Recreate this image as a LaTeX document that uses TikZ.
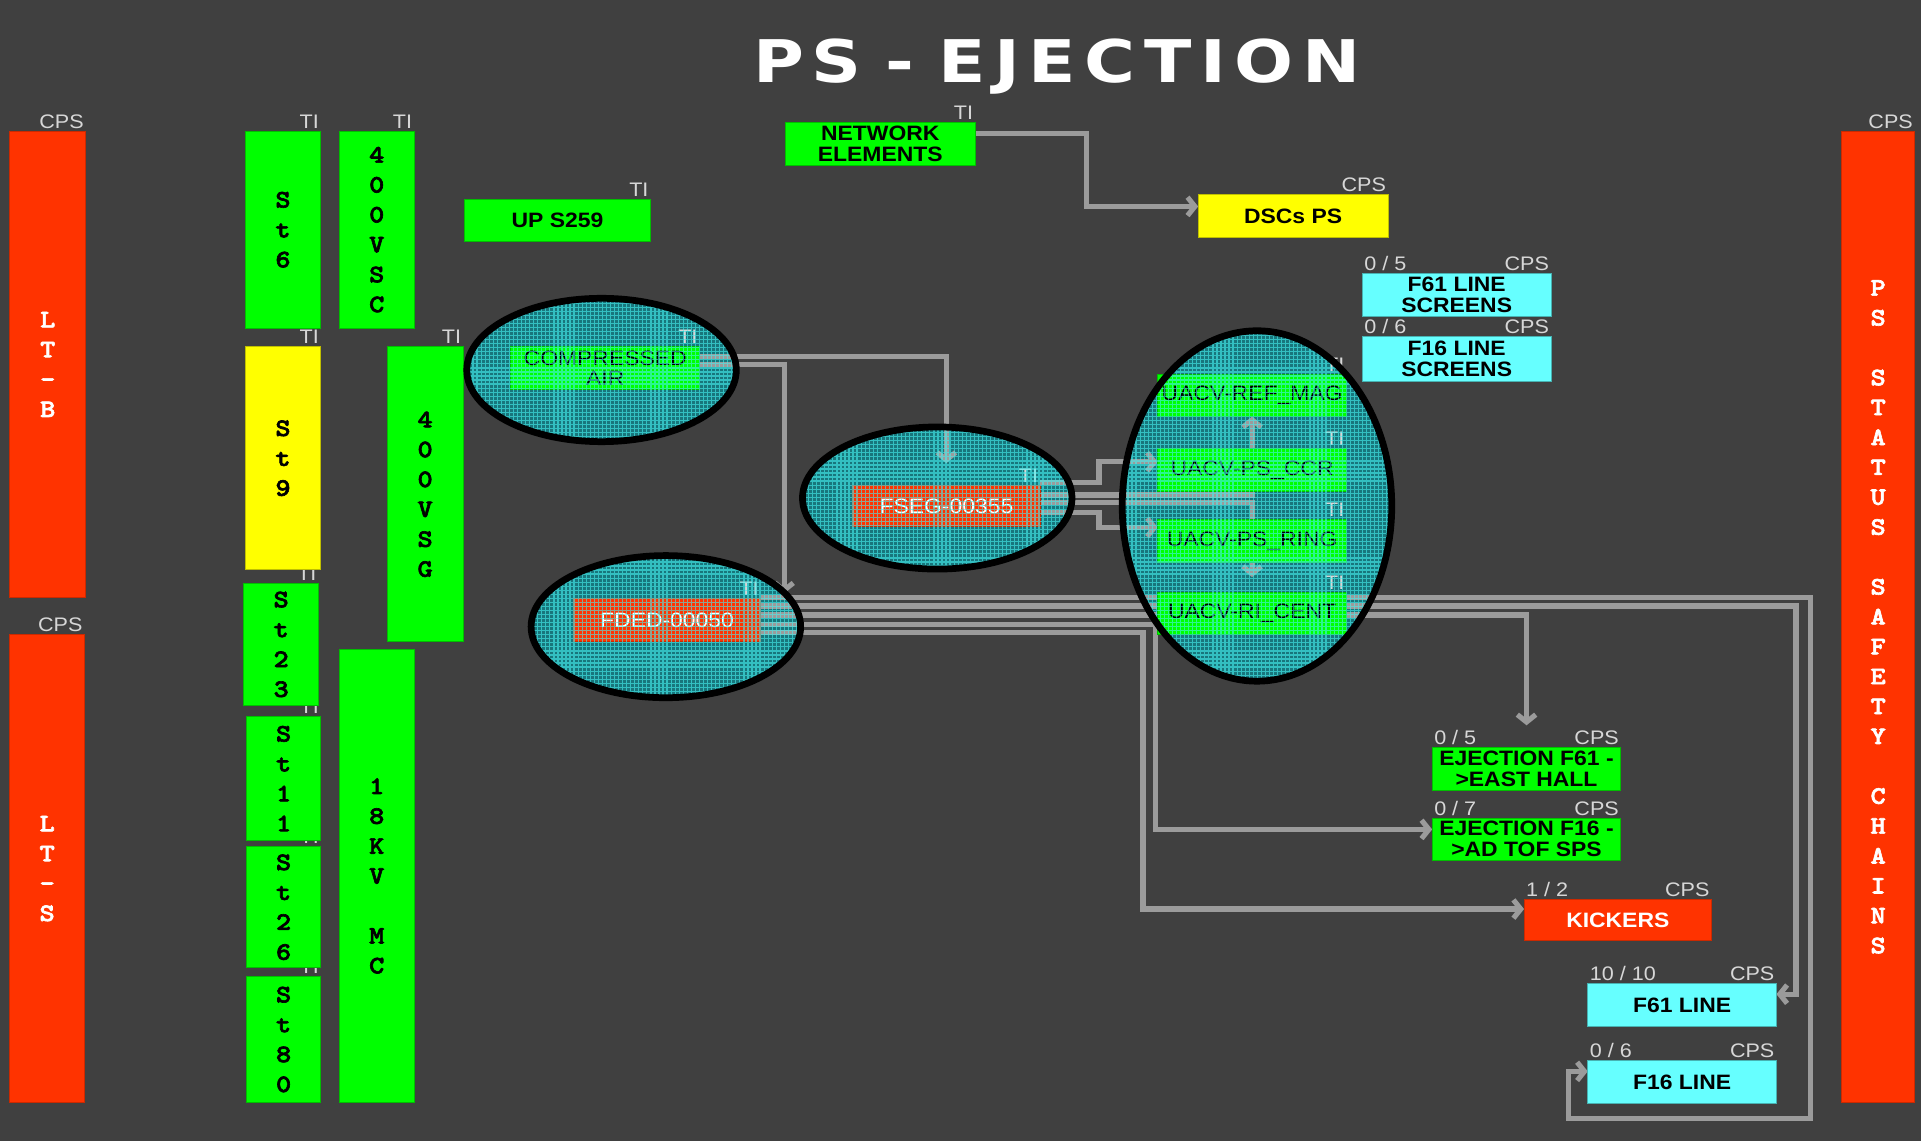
\documentclass[tikz,border=0pt]{standalone}
\usepackage{fontspec}
\setmainfont{Liberation Sans}
\newfontfamily\boxfont[FakeStretch=1.1]{Liberation Sans}
\newfontfamily\tagfont[FakeStretch=1.1]{Liberation Sans}
\newfontfamily\titlefont[FakeStretch=1.18]{DejaVu Sans}
\newfontfamily\vfont[FakeStretch=1.15,FakeBold=2.5]{lmmonolt10-bold.otf}
\usetikzlibrary{arrows.meta}

\pgfdeclarelayer{base}
\pgfdeclarelayer{low}
\pgfdeclarelayer{top}
\pgfsetlayers{base,low,main,top}

\definecolor{panelbg}{RGB}{64,64,64}
\definecolor{okgreen}{RGB}{0,255,0}
\definecolor{warnyel}{RGB}{255,255,0}
\definecolor{alarmred}{RGB}{255,51,0}
\definecolor{infocyan}{RGB}{102,255,255}
\definecolor{wiregray}{RGB}{155,155,155}
\definecolor{tagcol}{RGB}{215,215,215}
\definecolor{hatchbase}{RGB}{24,118,124}
\definecolor{hatchline}{RGB}{70,240,240}

\tikzset{
  cell/.style={rectangle, inner sep=0pt, outer sep=0pt, line width=0.8pt,
    font=\boxfont\bfseries\fontsize{17}{17}\selectfont, align=center, text=black},
  gbox/.style={cell, fill=okgreen, draw=okgreen!75!black},
  ybox/.style={cell, fill=warnyel, draw=warnyel!75!black},
  rbox/.style={cell, fill=alarmred, draw=alarmred!80!black, text=white},
  cbox/.style={cell, fill=infocyan, draw=infocyan!70!black},
  incell/.style={font=\boxfont\fontsize{17}{17}\selectfont},
  vtxt/.style={font=\vfont\fontsize{20.5}{24.4}\selectfont, align=center},
  tagtxt/.style={font=\tagfont\fontsize{16}{16}\selectfont, text=tagcol, inner sep=0pt},
  wireline/.style={draw=wiregray, line width=4.2pt},
  tip/.style={-{Straight Barb[length=6pt,width=15pt]}},
  hatch/.style={draw=hatchline, opacity=0.6, line width=1pt},
  ovalrim/.style={draw=black, line width=5.5pt},
}

% status tags sitting on the top edge of a box
\newcommand\tagR[3]{\node[tagtxt,anchor=base east,yshift=2.5pt,xshift=-1.5pt] (#1) at (#2.north east) {#3};}
\newcommand\tagL[3]{\node[tagtxt,anchor=base west,yshift=2.5pt,xshift=1.5pt] (#1) at (#2.north west) {#3};}

\begin{document}
\begin{tikzpicture}[x=1pt,y=-1pt]

% ---------- panel and oval groups ----------
\begin{pgfonlayer}{base}
  \fill[panelbg] (0,0) rectangle (1568,931);
  \coordinate (eca) at (491,302);
  \coordinate (efs) at (765,406.5);
  \coordinate (efd) at (543.5,511.5);
  \coordinate (eua) at (1026,413);
  \fill[hatchbase] (eca) ellipse [x radius=110pt, y radius=58.5pt];
  \fill[hatchbase] (efs) ellipse [x radius=110pt, y radius=58pt];
  \fill[hatchbase] (efd) ellipse [x radius=110pt, y radius=58pt];
  \fill[hatchbase] (eua) ellipse [x radius=110pt, y radius=143pt];
\end{pgfonlayer}
\useasboundingbox (0,0) rectangle (1568,931);

% ---------- title ----------
\node[anchor=base, text=white, inner sep=0pt,
      font=\titlefont\bfseries\fontsize{48}{48}\selectfont] (title) at (862.5,67)
  {P\kern6pt S - E\kern7pt J\kern7pt E\kern7pt C\kern7pt T\kern7pt I\kern7pt O\kern7pt N};

% ---------- vertical status bars ----------
\node[rbox,vtxt,minimum width=62pt,minimum height=381pt] (ltb) at (39,297.5) {L\\T\\-\\B};
\node[rbox,vtxt,minimum width=61pt,minimum height=382pt] (lts) at (38.5,709) {L\\T\\-\\S};

\node[gbox,vtxt,minimum width=62pt,minimum height=161pt] (st6) at (231,187.5) {S\\t\\6};
\node[ybox,vtxt,minimum width=62pt,minimum height=182pt] (st9) at (231,374) {S\\t\\9};
\node[gbox,vtxt,minimum width=61pt,minimum height=100pt] (st23) at (229.5,526) {S\\t\\2\\3};
\node[gbox,vtxt,minimum width=61pt,minimum height=101pt] (st11) at (231.5,635.5) {S\\t\\1\\1};
\node[gbox,vtxt,minimum width=61pt,minimum height=99pt] (st26) at (231.5,740.5) {S\\t\\2\\6};
\node[gbox,vtxt,minimum width=61pt,minimum height=103pt] (st80) at (231.5,848.5) {S\\t\\8\\0};

\node[gbox,vtxt,minimum width=61pt,minimum height=161pt] (vsc) at (307.5,187.5) {4\\0\\0\\V\\S\\C};
\node[gbox,vtxt,minimum width=62pt,minimum height=241pt] (vsg) at (347,403.5) {4\\0\\0\\V\\S\\G};
\node[gbox,vtxt,minimum width=61pt,minimum height=370pt] (kv18) at (307.5,715) {1\\8\\K\\V\\~\\M\\C};

\node[rbox,vtxt,minimum width=60pt,minimum height=793pt] (pss) at (1533,503.5)
  {P\\S\\~\\S\\T\\A\\T\\U\\S\\~\\S\\A\\F\\E\\T\\Y\\~\\C\\H\\A\\I\\N\\S};

% ---------- equipment boxes ----------
\node[gbox,minimum width=152pt,minimum height=34pt] (ups) at (455,180) {UP S259};
\node[gbox,minimum width=155pt,minimum height=35pt] (net) at (718.5,117.5) {NETWORK\\ELEMENTS};
\node[ybox,minimum width=155pt,minimum height=35pt] (dsc) at (1055.5,176.5) {DSCs PS};
\node[cbox,minimum width=154pt,minimum height=35pt] (f61s) at (1189,240.5) {F61 LINE\\SCREENS};
\node[cbox,minimum width=154pt,minimum height=36pt] (f16s) at (1189,293) {F16 LINE\\SCREENS};

\node[gbox,incell,minimum width=154pt,minimum height=35pt] (ca) at (494,300.5) {COMPRESSED\\AIR};
\node[rbox,incell,minimum width=153pt,minimum height=34pt] (fseg) at (772.5,413) {FSEG-00355};
\node[rbox,incell,minimum width=153pt,minimum height=35pt] (fded) at (544.5,506) {FDED-00050};

\node[gbox,incell,minimum width=154pt,minimum height=34pt] (refmag) at (1022,323) {UACV-REF\_MAG};
\node[gbox,incell,minimum width=154pt,minimum height=35pt] (ccr) at (1022,383.5) {UACV-PS\_CCR};
\node[gbox,incell,minimum width=154pt,minimum height=35pt] (ring) at (1022,441.5) {UACV-PS\_RING};
\node[gbox,incell,minimum width=154pt,minimum height=34pt] (ricent) at (1022,501) {UACV-RI\_CENT};

\node[gbox,minimum width=154pt,minimum height=35pt] (ejf61) at (1246,627.5) {EJECTION F61 -\\>EAST HALL};
\node[gbox,minimum width=154pt,minimum height=34pt] (ejf16) at (1246,685) {EJECTION F16 -\\>AD TOF SPS};
\node[rbox,minimum width=153pt,minimum height=34pt] (kick) at (1320.5,751) {KICKERS};
\node[cbox,minimum width=154pt,minimum height=35pt] (f61l) at (1373,820.5) {F61 LINE};
\node[cbox,minimum width=154pt,minimum height=35pt] (f16l) at (1373,883.5) {F16 LINE};

% ---------- tags and links (behind the boxes) ----------
\begin{pgfonlayer}{low}
  \tagR{tLTB}{ltb}{CPS}
  \tagR{tLTS}{lts}{CPS}
  \tagR{tSt6}{st6}{TI}
  \tagR{tVSC}{vsc}{TI}
  \tagR{tSt9}{st9}{TI}
  \tagR{tVSG}{vsg}{TI}
  \tagR{tSt23}{st23}{TI}
  \tagR{tSt11}{st11}{TI}
  \tagR{tSt26}{st26}{TI}
  \tagR{tSt80}{st80}{TI}
  \tagR{tPSS}{pss}{CPS}
  \tagR{tUPS}{ups}{TI}
  \tagR{tNET}{net}{TI}
  \tagR{tDSC}{dsc}{CPS}
  \tagL{nF61S}{f61s}{0 / 5}  \tagR{tF61S}{f61s}{CPS}
  \tagL{nF16S}{f16s}{0 / 6}  \tagR{tF16S}{f16s}{CPS}
  \tagR{tCA}{ca}{TI}
  \tagR{tFSEG}{fseg}{TI}
  \tagR{tFDED}{fded}{TI}
  \tagR{tREF}{refmag}{TI}
  \tagR{tCCR}{ccr}{TI}
  \tagR{tRING}{ring}{TI}
  \tagR{tCENT}{ricent}{TI}
  \tagL{nEJ61}{ejf61}{0 / 5}  \tagR{tEJ61}{ejf61}{CPS}
  \tagL{nEJ16}{ejf16}{0 / 7}  \tagR{tEJ16}{ejf16}{CPS}
  \tagL{nKICK}{kick}{1 / 2}   \tagR{tKICK}{kick}{CPS}
  \tagL{nF61}{f61l}{10 / 10}  \tagR{tF61}{f61l}{CPS}
  \tagL{nF16}{f16l}{0 / 6}    \tagR{tF16}{f16l}{CPS}

  % network to display servers
  \draw[wireline,tip] ([yshift=8.5pt]net.east) -- (887,109) |- ([yshift=8pt]dsc.west);
  % compressed air feeds
  \draw[wireline,tip] ([yshift=9.5pt]ca.east) -| ([yshift=18pt]fseg.north);
  \draw[wireline,tip] ([yshift=3pt]ca.east) -| ([xshift=19pt,yshift=4pt]fded.north east);
  % FSEG to the ventilation units
  \draw[wireline,tip] ([yshift=19pt]fseg.east) -- (897,394) |- ([yshift=6.5pt]ccr.west);
  \draw[wireline,tip] ([yshift=9pt]fseg.east) -| (refmag.south);
  \draw[wireline,tip] ([yshift=2.5pt]fseg.east) -| ([yshift=13pt]ricent.north);
  \draw[wireline,tip] ([yshift=-5pt]fseg.east) -- (897,418) |- ([yshift=11pt]ring.west);
  % FDED to the ejection lines
  \draw[wireline,tip] ([yshift=18.4pt]fded.east) -| (1478,913) -| (1280,874.5) -- ([yshift=9pt]f16l.west);
  \draw[wireline,tip] ([yshift=11.4pt]fded.east) -| (1466,811.5) -- ([yshift=9pt]f61l.east);
  \draw[wireline,tip] ([yshift=4pt]fded.east) -| ([yshift=18pt]ejf61.north);
  \draw[wireline,tip] ([yshift=-3.4pt]fded.east) -- (943,509.4) |- ([yshift=8pt]ejf16.west);
  \draw[wireline,tip] ([yshift=-10pt]fded.east) -- (933,516) |- ([yshift=9pt]kick.west);
\end{pgfonlayer}

% ---------- mesh over the grouped equipment, and the oval rims ----------
\begin{pgfonlayer}{top}
  \begin{scope}
    \clip (eca) ellipse [x radius=110pt, y radius=58.5pt];
    \draw[hatch,step=3.3pt] (378,240) grid (604,364);
  \end{scope}
  \begin{scope}
    \clip (efs) ellipse [x radius=110pt, y radius=58pt];
    \draw[hatch,step=3.3pt] (652,345) grid (878,468);
  \end{scope}
  \begin{scope}
    \clip (efd) ellipse [x radius=110pt, y radius=58pt];
    \draw[hatch,step=3.3pt] (430,450) grid (657,573);
  \end{scope}
  \begin{scope}
    \clip (eua) ellipse [x radius=110pt, y radius=143pt];
    \draw[hatch,step=3.3pt] (913,267) grid (1139,559);
  \end{scope}
  \draw[ovalrim] (eca) ellipse [x radius=110pt, y radius=58.5pt];
  \draw[ovalrim] (efs) ellipse [x radius=110pt, y radius=58pt];
  \draw[ovalrim] (efd) ellipse [x radius=110pt, y radius=58pt];
  \draw[ovalrim] (eua) ellipse [x radius=110pt, y radius=143pt];
\end{pgfonlayer}

\end{tikzpicture}
\end{document}
